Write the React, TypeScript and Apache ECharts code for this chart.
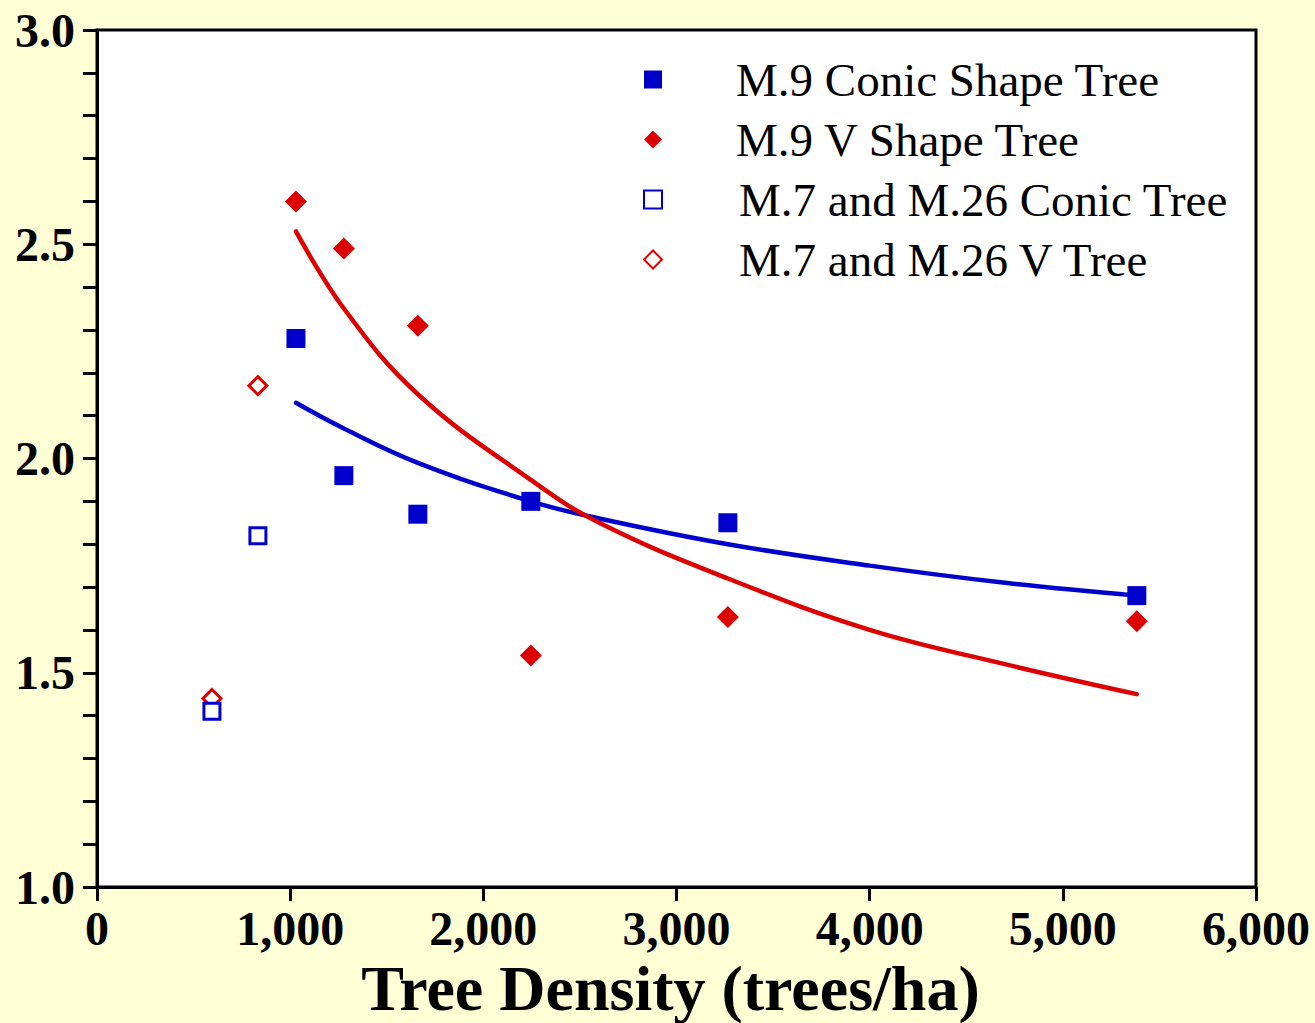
import React, { useEffect, useRef } from "react";
import * as echarts from "echarts";

const densityM9 = [1030, 1278, 1661, 2246, 3266, 5383];
const conicM9 = [2.28, 1.96, 1.87, 1.9, 1.85, 1.68];
const vShapeM9 = [2.6, 2.49, 2.31, 1.54, 1.63, 1.62];
const densityM7 = [595, 833];
const conicM7 = [1.41, 1.82];
const vShapeM7 = [1.44, 2.17];
const trendX = [1030, 1278, 1661, 2246, 2600, 3266, 4000, 4700, 5383];
const conicTrend = [2.13, 2.07, 1.99, 1.9, 1.86, 1.8, 1.75, 1.71, 1.68];
const vTrend = [2.53, 2.35, 2.15, 1.95, 1.85, 1.72, 1.6, 1.52, 1.45];

const seriesNames = [
  "M.9 Conic Shape Tree",
  "M.9 V Shape Tree",
  "M.7 and M.26 Conic Tree",
  "M.7 and M.26 V Tree",
];

const BLUE = "#0000CC";
const RED = "#DD0000";
const FONT = "'Liberation Serif', 'Times New Roman', serif";

const zip = (xs: number[], ys: number[]) => xs.map((x, i) => [x, ys[i]]);

export default function App() {
  const ref = useRef<HTMLDivElement>(null);
  useEffect(() => {
    if (!ref.current) return;
    const chart = echarts.init(ref.current, null, { renderer: "svg" });
    const axisLine = { show: true, onZero: false, lineStyle: { color: "#000", width: 3 } };
    chart.setOption({
      animation: false,
      backgroundColor: "#FFFFD5",
      grid: {
        left: 97,
        top: 30,
        right: 59,
        bottom: 136,
        outerBoundsMode: "none",
        containLabel: false,
        show: true,
        backgroundColor: "#FFFFFF",
        borderColor: "#000",
        borderWidth: 3,
      },
      legend: {
        orient: "vertical",
        left: 643,
        top: 56,
        padding: 0,
        itemWidth: 18,
        itemHeight: 18,
        itemGap: 13,
        textStyle: { fontFamily: FONT, fontSize: 47, color: "#000", lineHeight: 47, padding: [0, 0, 0, 69] },
        data: [
          { name: seriesNames[0], icon: "rect" },
          { name: seriesNames[1], icon: "diamond" },
          { name: seriesNames[2], icon: "rect", textStyle: { padding: [0, 0, 0, 72] } },
          { name: seriesNames[3], icon: "diamond", textStyle: { padding: [0, 0, 0, 72] } },
        ],
      },
      xAxis: {
        type: "value",
        min: 0,
        max: 6000,
        interval: 1000,
        name: "Tree Density (trees/ha)",
        nameLocation: "middle",
        nameGap: 62,
        nameTextStyle: {
          fontFamily: FONT,
          fontSize: 64,
          fontWeight: "bold",
          color: "#000",
          lineHeight: 60,
          padding: [0, 12, 0, 0],
        },
        axisLine,
        axisTick: { show: true, inside: false, length: 14, lineStyle: { color: "#000", width: 3 } },
        axisLabel: {
          fontFamily: FONT,
          fontSize: 48,
          fontWeight: "bold",
          color: "#000",
          margin: 17,
          formatter: (v: number) => v.toLocaleString("en-US"),
        },
        splitLine: { show: false },
      },
      yAxis: {
        type: "value",
        min: 1,
        max: 3,
        interval: 0.5,
        axisLine,
        axisTick: { show: true, inside: false, length: 14, lineStyle: { color: "#000", width: 3 } },
        minorTick: { show: true, splitNumber: 5, length: 14, lineStyle: { color: "#000", width: 3 } },
        axisLabel: {
          fontFamily: FONT,
          fontSize: 48,
          fontWeight: "bold",
          color: "#000",
          margin: 22,
          formatter: (v: number) => v.toFixed(1),
        },
        splitLine: { show: false },
      },
      series: [
        {
          name: "conicTrend",
          type: "line",
          data: zip(trendX, conicTrend),
          showSymbol: false,
          smooth: 0.4,
          lineStyle: { color: BLUE, width: 4.5, cap: "round" },
          z: 1,
        },
        {
          name: "vTrend",
          type: "line",
          data: zip(trendX, vTrend),
          showSymbol: false,
          smooth: 0.4,
          lineStyle: { color: RED, width: 4.5, cap: "round" },
          z: 1,
        },
        {
          name: seriesNames[0],
          type: "scatter",
          data: zip(densityM9, conicM9),
          symbol: "rect",
          symbolSize: 19,
          itemStyle: { color: BLUE, opacity: 1 },
          z: 3,
        },
        {
          name: seriesNames[1],
          type: "scatter",
          data: zip(densityM9, vShapeM9),
          symbol: "diamond",
          symbolSize: 22,
          itemStyle: { color: RED, opacity: 1 },
          z: 3,
        },
        {
          name: seriesNames[2],
          type: "scatter",
          data: zip(densityM7, conicM7),
          symbol: "rect",
          symbolSize: 16,
          itemStyle: { color: "#FFFFFF", borderColor: BLUE, borderWidth: 3, opacity: 1 },
          z: 4,
        },
        {
          name: seriesNames[3],
          type: "scatter",
          data: zip(densityM7, vShapeM7),
          symbol: "diamond",
          symbolSize: 18,
          itemStyle: { color: "#FFFFFF", borderColor: RED, borderWidth: 3, opacity: 1 },
          z: 3,
        },
      ],
    });
    return () => chart.dispose();
  }, []);
  return (
    <div
      ref={ref}
      style={{ position: "fixed", left: 0, top: 0, width: 1315, height: 1023 }}
    />
  );
}
